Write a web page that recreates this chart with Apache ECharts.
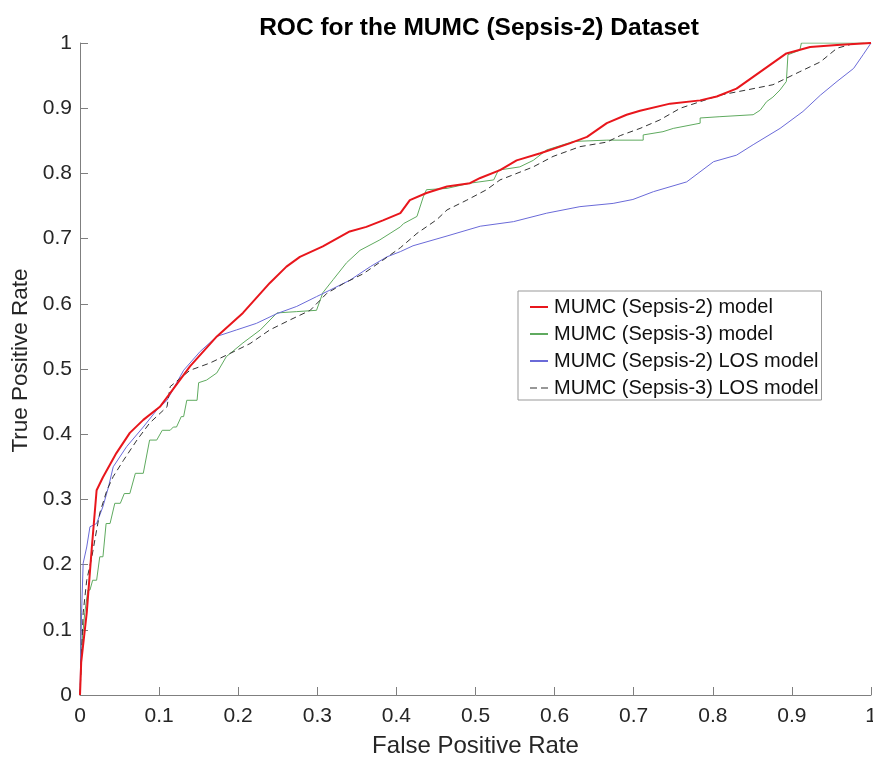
<!DOCTYPE html>
<html><head><meta charset="utf-8">
<script src="https://cdn.jsdelivr.net/npm/echarts@6/dist/echarts.min.js"></script>
<style>html,body{margin:0;padding:0;background:#fff}#c{width:873px;height:760px}</style>
</head><body><div id="c"></div>
<script>
const titleText = "ROC for the MUMC (Sepsis-2) Dataset";
const xName = "False Positive Rate";
const yName = "True Positive Rate";
const tickValues = [0,0.1,0.2,0.3,0.4,0.5,0.6,0.7,0.8,0.9,1];
const seriesNames = ["MUMC (Sepsis-2) model","MUMC (Sepsis-3) model","MUMC (Sepsis-2) LOS model","MUMC (Sepsis-3) LOS model"];

const sepsis2Model = [[0,0],[0.0015,0.05],[0.0085,0.126],[0.015,0.227],[0.021,0.314],[0.029,0.334],[0.046,0.371],[0.063,0.402],[0.080,0.422],[0.101,0.442],[0.114,0.463],[0.139,0.504],[0.173,0.550],[0.206,0.586],[0.240,0.632],[0.261,0.657],[0.278,0.672],[0.307,0.688],[0.341,0.711],[0.362,0.718],[0.383,0.728],[0.405,0.739],[0.417,0.759],[0.438,0.770],[0.464,0.780],[0.493,0.785],[0.506,0.793],[0.531,0.805],[0.552,0.820],[0.582,0.831],[0.619,0.846],[0.641,0.856],[0.666,0.877],[0.691,0.890],[0.708,0.896],[0.746,0.907],[0.784,0.912],[0.805,0.918],[0.830,0.930],[0.851,0.948],[0.872,0.966],[0.893,0.984],[0.923,0.994],[0.957,0.997],[1,1]];

const sepsis3Model = [[0,0],[0.002,0.074],[0.004,0.074],[0.006,0.126],[0.0085,0.126],[0.010,0.161],[0.0126,0.161],[0.016,0.176],[0.021,0.176],[0.025,0.212],[0.029,0.212],[0.033,0.263],[0.038,0.263],[0.044,0.294],[0.051,0.294],[0.056,0.309],[0.063,0.309],[0.070,0.340],[0.080,0.340],[0.088,0.391],[0.097,0.391],[0.104,0.406],[0.114,0.406],[0.118,0.411],[0.122,0.411],[0.128,0.427],[0.131,0.427],[0.135,0.452],[0.148,0.452],[0.150,0.479],[0.160,0.483],[0.173,0.494],[0.185,0.519],[0.206,0.540],[0.228,0.560],[0.249,0.586],[0.274,0.588],[0.299,0.590],[0.307,0.617],[0.320,0.637],[0.337,0.663],[0.354,0.682],[0.379,0.698],[0.392,0.708],[0.405,0.718],[0.409,0.723],[0.426,0.734],[0.434,0.764],[0.438,0.775],[0.464,0.777],[0.493,0.785],[0.523,0.790],[0.529,0.805],[0.556,0.810],[0.573,0.820],[0.590,0.836],[0.624,0.849],[0.666,0.851],[0.712,0.851],[0.712,0.859],[0.737,0.864],[0.750,0.869],[0.784,0.877],[0.784,0.885],[0.809,0.887],[0.851,0.890],[0.860,0.897],[0.868,0.910],[0.876,0.917],[0.885,0.928],[0.893,0.941],[0.895,0.982],[0.910,0.989],[0.912,1],[1,1]];

const sepsis2LOS = [[0,0],[0.002,0.126],[0.004,0.202],[0.0085,0.227],[0.0126,0.258],[0.021,0.263],[0.029,0.289],[0.036,0.319],[0.042,0.350],[0.059,0.381],[0.080,0.411],[0.097,0.437],[0.110,0.452],[0.131,0.498],[0.152,0.527],[0.173,0.550],[0.198,0.560],[0.223,0.570],[0.249,0.585],[0.274,0.596],[0.299,0.611],[0.316,0.621],[0.341,0.636],[0.367,0.657],[0.388,0.672],[0.405,0.680],[0.421,0.689],[0.464,0.704],[0.506,0.719],[0.548,0.726],[0.590,0.739],[0.632,0.749],[0.674,0.754],[0.699,0.760],[0.725,0.772],[0.767,0.787],[0.801,0.818],[0.830,0.828],[0.851,0.844],[0.885,0.869],[0.914,0.895],[0.936,0.920],[0.957,0.941],[0.978,0.961],[0.990,0.982],[1,1]];

const sepsis3LOS = [[0,0],[0.004,0.126],[0.0085,0.176],[0.015,0.212],[0.021,0.253],[0.025,0.279],[0.034,0.314],[0.042,0.335],[0.055,0.360],[0.072,0.391],[0.088,0.417],[0.110,0.442],[0.114,0.473],[0.139,0.498],[0.164,0.509],[0.190,0.524],[0.215,0.539],[0.240,0.560],[0.265,0.575],[0.291,0.590],[0.312,0.616],[0.333,0.631],[0.358,0.646],[0.383,0.667],[0.405,0.686],[0.426,0.708],[0.451,0.729],[0.464,0.744],[0.489,0.759],[0.514,0.775],[0.531,0.790],[0.548,0.798],[0.573,0.810],[0.598,0.826],[0.632,0.841],[0.666,0.848],[0.683,0.858],[0.708,0.869],[0.733,0.882],[0.759,0.900],[0.784,0.910],[0.809,0.920],[0.843,0.928],[0.876,0.936],[0.893,0.946],[0.910,0.956],[0.936,0.971],[0.957,0.992],[0.978,0.999],[1,1]];

const chart = echarts.init(document.getElementById('c'), null, {renderer:'canvas'});
const font = "Liberation Sans, Arial, Helvetica, sans-serif";
const axisCommon = {
  type:'value', min:0, max:1, interval:0.1,
  axisLine:{show:true, lineStyle:{color:'#7f7f7f', width:1}},
  axisTick:{show:true, inside:true, length:8, lineStyle:{color:'#7f7f7f'}},
  splitLine:{show:false},
  axisLabel:{color:'#262626', fontSize:21, fontFamily:font, margin:9,
    formatter: v => { const t = tickValues.find(k => Math.abs(k - v) < 1e-6); return t === undefined ? '' : String(t); }}
};
chart.setOption({
  animation:false,
  backgroundColor:'#fff',
  title:{text:titleText, left:474, textAlign:'center', top:11,
    textStyle:{fontSize:24.5, fontWeight:'bold', color:'#000', fontFamily:font}},
  grid:{left:80, right:2, top:43, bottom:65, containLabel:false, outerBoundsMode:'none'},
  xAxis:Object.assign({}, axisCommon, {name:xName, nameLocation:'middle', nameGap:39,
    nameTextStyle:{color:'#262626', fontSize:24, fontFamily:font},
    axisLabel:Object.assign({}, axisCommon.axisLabel, {margin:11})}),
  yAxis:Object.assign({}, axisCommon, {name:yName, nameLocation:'middle', nameGap:46, nameRotate:90,
    nameTextStyle:{color:'#262626', fontSize:22.5, fontFamily:font, padding:[0,0,0,17]},
    axisLabel:Object.assign({}, axisCommon.axisLabel, {margin:8})}),
  legend:{
    orient:'vertical', left:518, top:291,
    backgroundColor:'#fff', borderColor:'#999', borderWidth:1,
    padding:[6,3,2,12], itemGap:7, itemWidth:18, itemHeight:2,
    textStyle:{fontSize:20, color:'#111', fontFamily:font, padding:[0,0,0,1]},
    data:[
      {name:seriesNames[0], icon:'rect'},
      {name:seriesNames[1], icon:'rect'},
      {name:seriesNames[2], icon:'rect'},
      {name:seriesNames[3], icon:'path://M0,0h7v1h-7z M11,0h7v1h-7z'}
    ]
  },
  series:[
    {name:seriesNames[1], type:'line', data:sepsis3Model, showSymbol:false, symbol:'none',
      lineStyle:{color:'#5faa5f', width:1}, itemStyle:{color:'#5faa5f'}, z:2},
    {name:seriesNames[2], type:'line', data:sepsis2LOS, showSymbol:false, symbol:'none',
      lineStyle:{color:'#6a6ad8', width:1}, itemStyle:{color:'#6a6ad8'}, z:3},
    {name:seriesNames[3], type:'line', data:sepsis3LOS, showSymbol:false, symbol:'none',
      lineStyle:{color:'#333', width:1, type:[6,4]}, itemStyle:{color:'#333'}, z:4},
    {name:seriesNames[0], type:'line', data:sepsis2Model, showSymbol:false, symbol:'none',
      lineStyle:{color:'#e8161c', width:2}, itemStyle:{color:'#e8161c'}, z:5}
  ]
});
</script></body></html>
